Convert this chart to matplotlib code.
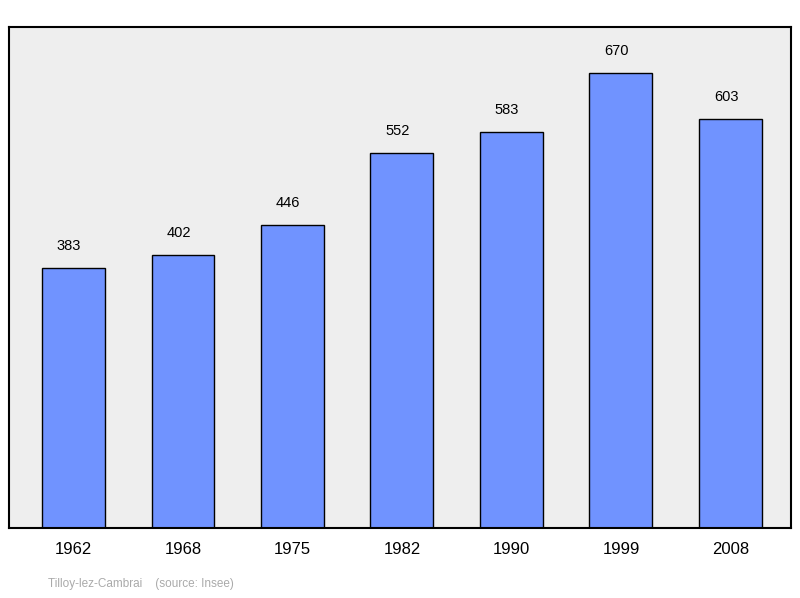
import matplotlib
matplotlib.use("Agg")
import matplotlib.pyplot as plt

years = ["1962", "1968", "1975", "1982", "1990", "1999", "2008"]
values = [383, 402, 446, 552, 583, 670, 603]

plt.rcParams['font.family'] = ['Liberation Sans', 'DejaVu Sans']
fig = plt.figure(figsize=(8, 5.98), dpi=100)
ax = fig.add_axes([9/800, 70/598, 782/800, 501/598])
ax.set_facecolor('#eeeeee')
x = list(range(len(years)))
ax.bar(x, values, width=0.575, color='#7093ff', edgecolor='black', linewidth=1)
for xi, v in zip(x, values):
    ax.text(xi - 0.04, v + 22, str(v), ha='center', va='bottom', fontsize=10.5)
ax.set_xlim(-0.589, 6.553)
ax.set_ylim(0, 738)
ax.set_yticks([])
ax.set_xticks(x)
ax.set_xticklabels(years, fontsize=12)
ax.tick_params(axis='x', length=0, pad=10)
for s in ax.spines.values():
    s.set_linewidth(1.5)
fig.text(48/800, 1 - 584/598, "Tilloy-lez-Cambrai    (source: Insee)", color='#aaaaaa', fontsize=8.5, va='center')
fig.savefig("out.png", dpi=100)
